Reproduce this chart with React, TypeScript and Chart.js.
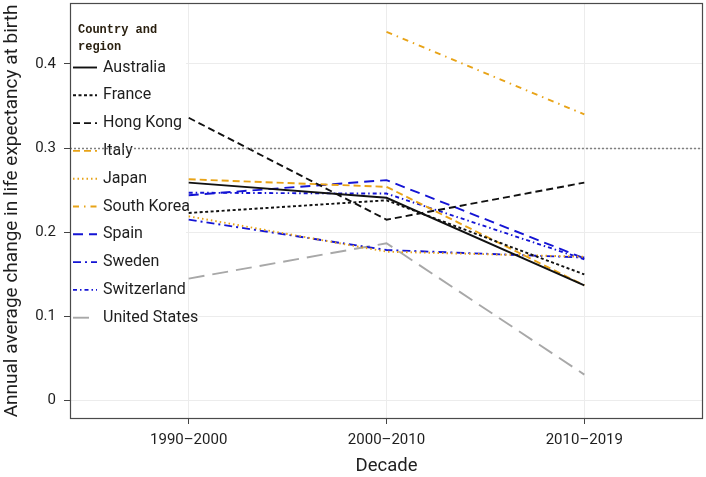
import React, { useEffect, useRef } from "react";
import { Chart, registerables } from "chart.js";

Chart.register(...registerables);

// ---- data ----
const decades = ["1990–2000", "2000–2010", "2010–2019"];
const yTicks = [0, 0.1, 0.2, 0.3, 0.4];
const referenceValue = 0.3;

const australia = [0.259, 0.241, 0.137];
const france = [0.223, 0.238, 0.15];
const hongKong = [0.336, 0.215, 0.259];
const italy = [0.263, 0.254, 0.137];
const japan = [0.219, 0.177, 0.171];
const southKorea = [null, 0.438, 0.34];
const spain = [0.244, 0.262, 0.169];
const sweden = [0.215, 0.179, 0.17];
const switzerland = [0.247, 0.246, 0.168];
const unitedStates = [0.145, 0.187, 0.031];

const BLACK = "#111111";
const ORANGE = "#E8A317";
const BLUE = "#1414D4";
const GRAY = "#A8A8A8";

const series = [
  { label: "Australia", values: australia, color: BLACK, dash: [] as number[] },
  { label: "France", values: france, color: BLACK, dash: [3, 2.5] },
  { label: "Hong Kong", values: hongKong, color: BLACK, dash: [7, 4] },
  { label: "Italy", values: italy, color: ORANGE, dash: [7, 4] },
  { label: "Japan", values: japan, color: ORANGE, dash: [1.5, 3] },
  { label: "South Korea", values: southKorea, color: ORANGE, dash: [6, 5, 1.5, 5] },
  { label: "Spain", values: spain, color: BLUE, dash: [10, 6] },
  { label: "Sweden", values: sweden, color: BLUE, dash: [8, 4, 2, 4] },
  { label: "Switzerland", values: switzerland, color: BLUE, dash: [4, 3, 1.5, 3] },
  { label: "United States", values: unitedStates, color: GRAY, dash: [16, 8] },
];

const TEXT = "#1e1e1e";
const FONT = "Roboto";

const panelPlugin = {
  id: "panel",
  beforeDatasetsDraw(chart: any) {
    const { ctx, chartArea } = chart;
    ctx.save();
    // legend background
    ctx.fillStyle = "#ffffff";
    ctx.fillRect(chartArea.left + 1, chartArea.top + 1, 115, 332);
    // legend title
    ctx.fillStyle = "#2a2010";
    ctx.font = "bold 12px 'Liberation Mono'";
    ctx.textBaseline = "middle";
    ctx.textAlign = "left";
    ctx.fillText("Country and", 78, 30);
    ctx.fillText("region", 78, 47);
    // legend entries
    chart.data.datasets.forEach((ds: any, i: number) => {
      const y = 67.5 + i * 27.8;
      ctx.strokeStyle = ds.borderColor;
      ctx.lineWidth = ds.borderWidth;
      ctx.setLineDash(ds.borderDash || []);
      ctx.beginPath();
      ctx.moveTo(73, y);
      ctx.lineTo(97, y);
      ctx.stroke();
      ctx.setLineDash([]);
      ctx.fillStyle = TEXT;
      ctx.font = `16px ${FONT}`;
      ctx.fillText(ds.label, 103, y);
    });
    ctx.restore();
  },
  afterDatasetsDraw(chart: any) {
    const { ctx, chartArea } = chart;
    const y = Math.round(chart.scales.y.getPixelForValue(referenceValue)) + 0.5;
    ctx.save();
    ctx.strokeStyle = "#808080";
    ctx.lineWidth = 1.4;
    ctx.setLineDash([2, 2]);
    ctx.beginPath();
    ctx.moveTo(chartArea.left, y);
    ctx.lineTo(chartArea.right, y);
    ctx.stroke();
    ctx.restore();
  },
  afterDraw(chart: any) {
    const { ctx, chartArea } = chart;
    ctx.save();
    ctx.strokeStyle = "#4a4a4a";
    ctx.lineWidth = 1.2;
    ctx.strokeRect(
      chartArea.left + 0.5,
      chartArea.top + 0.5,
      chartArea.right - chartArea.left - 1,
      chartArea.bottom - chartArea.top - 1
    );
    ctx.restore();
  },
};

const zeroPad = (s: any) => {
  s.paddingTop = 0;
  s.paddingBottom = 0;
  s.paddingLeft = 0;
  s.paddingRight = 0;
};

export default function App() {
  const canvasRef = useRef<HTMLCanvasElement | null>(null);

  useEffect(() => {
    if (!canvasRef.current) return;
    const datasets = series.map((s) => ({
      label: s.label,
      data: s.values
        .map((v, i) => (v === null ? null : { x: i, y: v }))
        .filter((p) => p !== null),
      borderColor: s.color,
      backgroundColor: s.color,
      borderDash: s.dash,
      borderWidth: 1.9,
      pointRadius: 0,
      fill: false,
      tension: 0,
    }));

    const chart = new Chart(canvasRef.current, {
      type: "line",
      data: { datasets: datasets as any },
      options: {
        animation: false,
        responsive: true,
        maintainAspectRatio: false,
        layout: { padding: { top: 3, right: 3, left: 0, bottom: 0 } },
        plugins: {
          legend: { display: false },
          tooltip: { enabled: false },
        },
        scales: {
          x: {
            type: "linear",
            min: -0.6,
            max: 2.6,
            afterBuildTicks: (s: any) => {
              s.ticks = decades.map((_, i) => ({ value: i }));
            },
            afterFit: (s: any) => {
              s.height = 58;
              zeroPad(s);
            },
            ticks: {
              callback: (v: any) => decades[Number(v)] ?? "",
              color: TEXT,
              font: { family: FONT, size: 15 },
              padding: 7,
              maxRotation: 0,
            },
            grid: {
              color: "#ececec",
              lineWidth: 1,
              drawTicks: true,
              tickLength: 5,
              tickColor: "#444",
            },
            border: { display: false },
            title: {
              display: true,
              text: "Decade",
              color: TEXT,
              font: { family: FONT, size: 18.5 },
              padding: { top: 0, bottom: 0 },
            },
          },
          y: {
            type: "linear",
            min: -0.0217,
            max: 0.4723,
            afterBuildTicks: (s: any) => {
              s.ticks = yTicks.map((v) => ({ value: v }));
            },
            afterFit: (s: any) => {
              s.width = 70;
              zeroPad(s);
            },
            ticks: {
              callback: (v: any) => String(v),
              color: TEXT,
              font: { family: FONT, size: 15 },
              padding: 8,
            },
            grid: {
              color: "#ececec",
              lineWidth: 1,
              drawTicks: true,
              tickLength: 6,
              tickColor: "#444",
            },
            border: { display: false },
            title: {
              display: true,
              text: "Annual average change in life expectancy at birth",
              color: TEXT,
              font: { family: FONT, size: 19 },
              padding: { top: 1, bottom: 0 },
            },
          },
        },
      },
      plugins: [panelPlugin],
    });
    return () => chart.destroy();
  }, []);

  return (
    <div style={{ position: "fixed", left: 0, top: 0, width: 706, height: 477, background: "#fff" }}>
      <canvas ref={canvasRef} />
    </div>
  );
}
